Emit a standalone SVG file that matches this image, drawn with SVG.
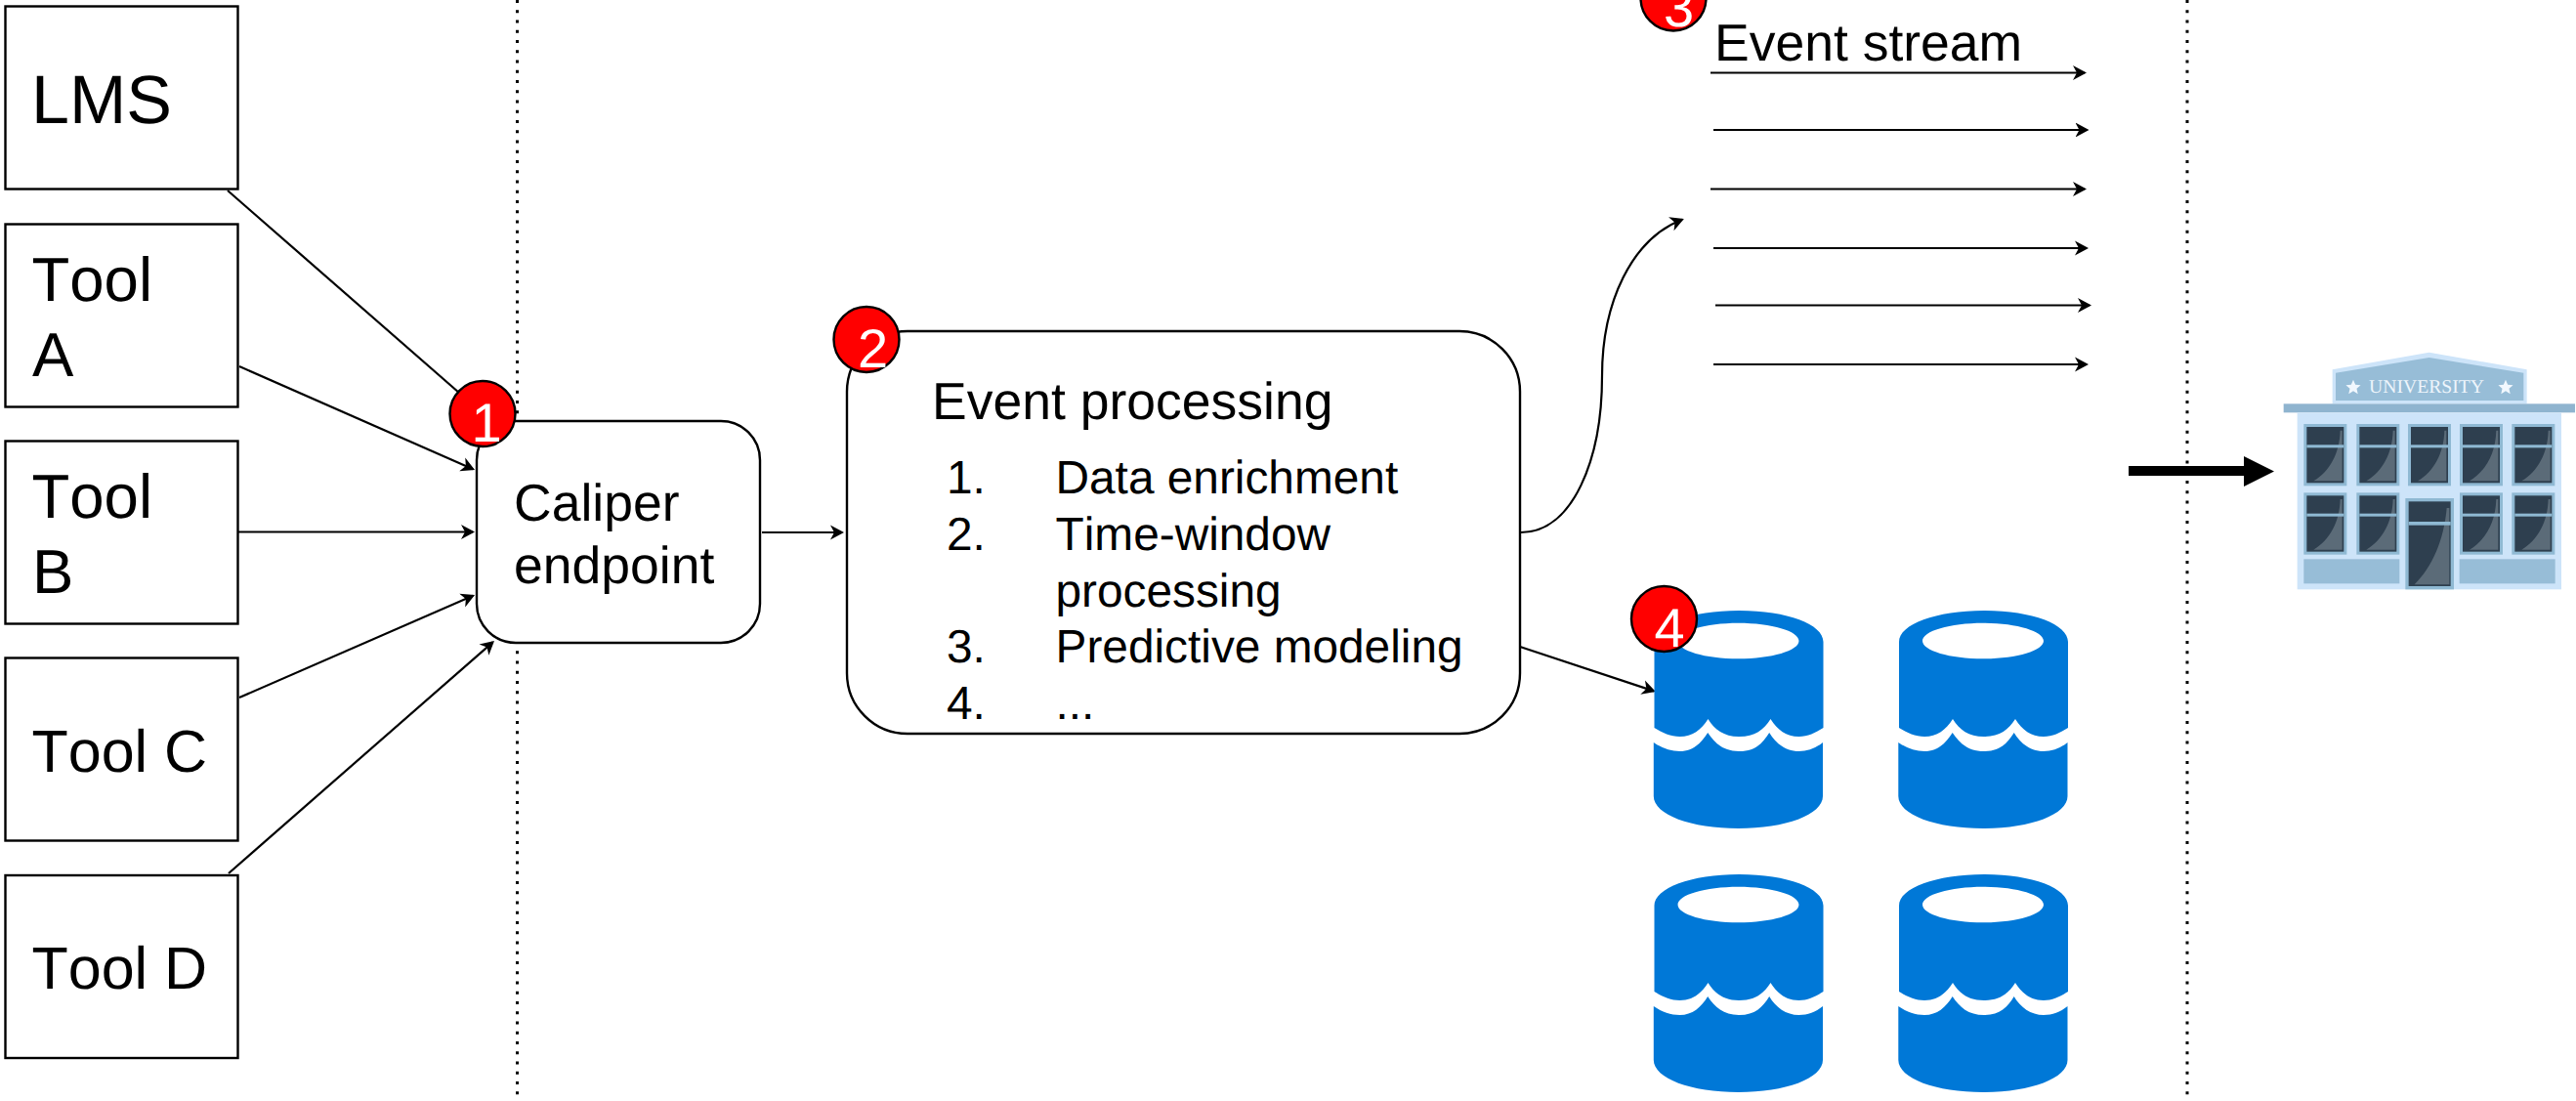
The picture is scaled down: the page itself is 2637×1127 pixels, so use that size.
<svg xmlns="http://www.w3.org/2000/svg" xmlns:xlink="http://www.w3.org/1999/xlink" width="2637" height="1127" viewBox="0 0 2637 1127">
<style>
text{font-family:"Liberation Sans",Arial,sans-serif;fill:#000;font-kerning:none;text-rendering:geometricPrecision}
.box{fill:#fff;stroke:#000;stroke-width:2.4}
.edge{fill:none;stroke:#000;stroke-width:2.2;marker-end:url(#arrow)}
.div{fill:none;stroke:#000;stroke-width:3;stroke-dasharray:3 7.25}
.badge{fill:#f00;stroke:#000;stroke-width:2.4}
.num{font-size:56px;fill:#fff}
.lms{font-size:70px}.ta{font-size:63.500px}.tc{font-size:61px}
.h{font-size:53.500px}.li{font-size:47.800px}
.mid{fill:#97bdd7}.lite{fill:#cde4f9}.frame{fill:#8fb9d3}.dark{fill:#2e3f4f}.glass{fill:#5b6b78}
</style>
<defs>
<marker id="arrow" markerUnits="userSpaceOnUse" markerWidth="20" markerHeight="20" refX="12" refY="8" orient="auto" viewBox="0 0 20 20">
<path d="M0 .5L14 8 0 15.5 4 8Z" fill="#000"/>
</marker>
<g id="db">
<path fill="#0078d7" fill-rule="evenodd" d="M0 32C0 14 38 0 87 0S173 14 173 32V120C165 125 157 129 148 129 135 129 126 122 119 111 112 122 103 129 87 129 71 129 62 122 55 111 48 122 39 129 26 129 17 129 8 125 0 120ZM24 31C24 41 52 49.300 86 49.300S148 41 148 31 120 12.700 86 12.700 24 21 24 31Z"/>
<path fill="#0078d7" d="M-.7 135C8 141 17 144 26 144 39 144 48 136 54.700 125 62 136 71 144 87 144 103 144 111 136 117.700 125 124 136 135 144 148 144 157 144 165 141 172.500 135V190C172.500 209 134 223 86 223S-.7 209-.7 190Z"/>
</g>
<g id="win">
<rect class="frame" width="132" height="190"/>
<rect class="dark" x="9" y="9" width="114" height="172"/>
<path class="glass" d="M112 20C110 90 80 145 30 175H118V20Z"/>
<rect class="frame" x="9" y="64" width="114" height="9"/>
</g>
<polygon id="star" points="0,-24 6.500,-8.500 22.800,-7.400 10.500,3.400 14.100,19.400 0,11 -14.100,19.400 -10.500,3.400 -22.800,-7.400 -6.500,-8.500" fill="#f2f8fe"/>
</defs>

<g id="dividers">
<line class="div" x1="529.500" y1="0" x2="529.500" y2="1127"/>
<line class="div" x1="2239" y1="0" x2="2239" y2="1127"/>
</g>

<g id="connectors">
<line class="edge" x1="233" y1="195" x2="486" y2="416"/>
<line class="edge" x1="245" y1="375" x2="484.200" y2="480.200"/>
<line class="edge" x1="244" y1="544.500" x2="484" y2="544.500"/>
<line class="edge" x1="245" y1="714" x2="484.200" y2="609.800"/>
<line class="edge" x1="234" y1="894" x2="504.500" y2="657.300"/>
<line class="edge" x1="780" y1="545" x2="862" y2="545"/>
<path class="edge" d="M1557 545C1610 545 1640 470 1640 385 1640 310 1670 245 1722 224.800"/>
<line class="edge" x1="1556" y1="662" x2="1693" y2="707.400"/>
<line class="edge" x1="1751" y1="74.500" x2="2134" y2="74.500"/>
<line class="edge" x1="1754" y1="133" x2="2136.500" y2="133"/>
<line class="edge" x1="1751" y1="193.500" x2="2134" y2="193.500"/>
<line class="edge" x1="1754" y1="254" x2="2136" y2="254"/>
<line class="edge" x1="1756" y1="312.500" x2="2139" y2="312.500"/>
<line class="edge" x1="1754" y1="373" x2="2136" y2="373"/>
<path id="thick-arrow" d="M2179 477H2297V467L2328 482.500 2297 498V487H2179Z" fill="#000"/>
</g>

<g id="lms"><rect class="box" x="5.500" y="6.500" width="238" height="187"/><text class="lms" x="32" y="126">LMS</text></g>
<g id="tool-a"><rect class="box" x="5.500" y="229.500" width="238" height="187"/><text class="ta" x="32.500" y="308">Tool</text><text class="ta" x="33" y="385">A</text></g>
<g id="tool-b"><rect class="box" x="5.500" y="451.500" width="238" height="187"/><text class="ta" x="32.500" y="530">Tool</text><text class="ta" x="33" y="607">B</text></g>
<g id="tool-c"><rect class="box" x="5.500" y="673.500" width="238" height="187"/><text class="tc" x="32.500" y="790">Tool C</text></g>
<g id="tool-d"><rect class="box" x="5.500" y="896" width="238" height="187"/><text class="tc" x="32.500" y="1012">Tool D</text></g>

<g id="caliper"><rect class="box" x="488" y="431" width="290" height="227" rx="40"/><text class="h" x="526" y="532.500">Caliper</text><text class="h" x="526" y="596.500">endpoint</text></g>

<g id="event-processing">
<rect class="box" x="867" y="339" width="689" height="412" rx="62"/>
<text class="h" x="954" y="429">Event processing</text>
<text class="li" x="969" y="504.500">1.</text><text class="li" x="1080.500" y="504.500">Data enrichment</text>
<text class="li" x="969" y="562.500">2.</text><text class="li" x="1080.500" y="562.500">Time-window</text>
<text class="li" x="1080.500" y="620.500">processing</text>
<text class="li" x="969" y="677.500">3.</text><text class="li" x="1080.500" y="677.500">Predictive modeling</text>
<text class="li" x="969" y="735.500">4.</text><text class="li" x="1080.500" y="735.500">...</text>
</g>

<g id="event-stream"><text class="h" x="1755" y="61.500">Event stream</text></g>

<g id="db-1"><use href="#db" x="1693.500" y="625"/></g>
<g id="db-2"><use href="#db" x="1944" y="625"/></g>
<g id="db-3"><use href="#db" x="1693.500" y="895"/></g>
<g id="db-4"><use href="#db" x="1944" y="895"/></g>

<g id="university" transform="translate(2300 340) scale(.33333)">
<polygon class="lite" points="263,115 560,62 860,115 860,220 263,220"/>
<polygon class="mid" points="273,125 560,78 850,125 850,210 273,210"/>
<rect x="113" y="220" width="895" height="27" fill="#8fb4cf"/>
<rect class="lite" x="155" y="247" width="811" height="543"/>
<use href="#win" x="175" y="282"/><use href="#win" x="337" y="282"/><use href="#win" x="495" y="282"/><use href="#win" x="654" y="282"/><use href="#win" x="814" y="282"/>
<use href="#win" x="175" y="493"/><use href="#win" x="337" y="493"/><use href="#win" x="654" y="493"/><use href="#win" x="814" y="493"/>
<rect class="frame" x="487" y="510" width="149" height="280"/>
<rect class="dark" x="497" y="520" width="129" height="260"/>
<path class="glass" d="M614 540C605 640 570 720 515 775H622V540Z"/>
<rect class="frame" x="497" y="582" width="129" height="11"/>
<rect class="mid" x="175" y="697" width="294" height="75"/>
<rect class="mid" x="653" y="697" width="294" height="75"/>
<use href="#star" x="327" y="170"/><use href="#star" x="795" y="170"/>
<text x="375" y="187" style="font-family:'Liberation Serif',serif;font-size:59px;fill:#eef5fc">UNIVERSITY</text>
</g>

<g id="badge-1"><circle class="badge" cx="494" cy="423.500" r="33.500"/><text class="num" x="482.500" y="451.500">1</text></g>
<g id="badge-2"><circle class="badge" cx="887" cy="347.500" r="33.500"/><text class="num" x="878" y="376">2</text></g>
<g id="badge-3"><circle class="badge" cx="1713" cy="-2" r="33.500"/><text class="num" x="1703" y="27">3</text></g>
<g id="badge-4"><circle class="badge" cx="1703.500" cy="633.500" r="33.500"/><text class="num" x="1693.500" y="662">4</text></g>
</svg>
